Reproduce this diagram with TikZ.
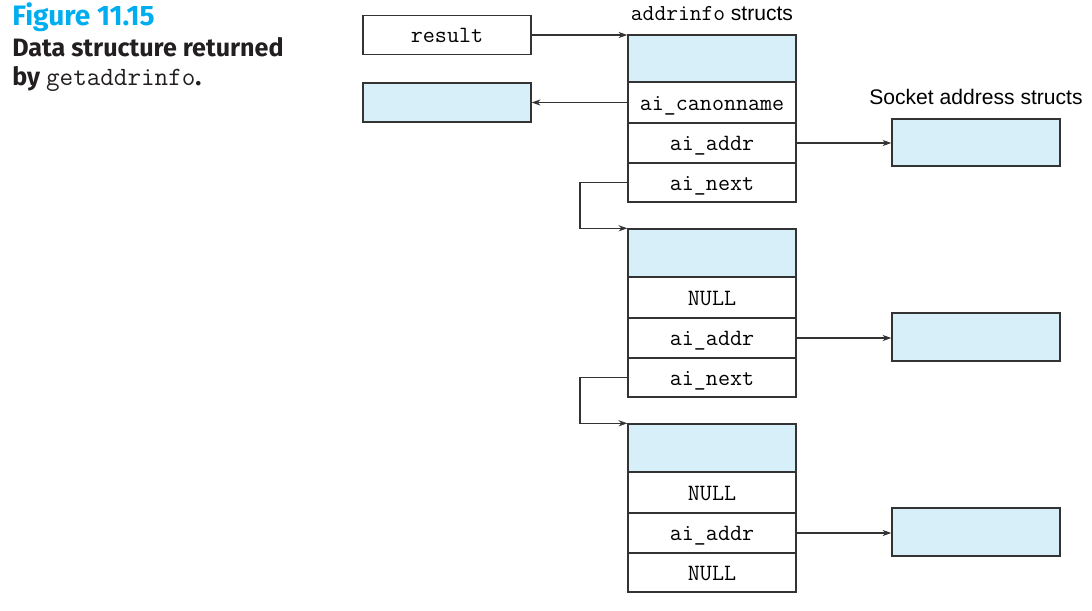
\documentclass[tikz,border=0pt]{standalone}
\usepackage{fontspec}
\setmainfont{Liberation Sans}
\newfontfamily\capfont{Fira Sans}
\usetikzlibrary{arrows.meta}
\definecolor{boxblue}{HTML}{D7EFF9}
\definecolor{capcyan}{HTML}{00AEEF}
\definecolor{capblack}{HTML}{231F20}
\definecolor{linegray}{HTML}{333333}
\tikzset{
  cell/.style={draw=linegray, line width=0.8pt, minimum width=168*0.02cm, inner sep=0pt, text height=10pt, text depth=1pt, font=\ttfamily\fontsize{13.3}{15}\selectfont},
  bluecell/.style={cell, fill=boxblue},
  conn/.style={draw=linegray, line width=0.6pt, -{Stealth[length=5pt,width=3.5pt]}},
  lbl/.style={inner sep=0pt, font=\fontsize{12}{14}\selectfont},
  capline/.style={anchor=base west, inner sep=0pt, font=\capfont\bfseries\fontsize{14.3}{17}\selectfont, text=capblack},
}
\begin{document}
\begin{tikzpicture}[x=0.02cm,y=-0.02cm]
\useasboundingbox (0,0) rectangle (1092,610);
% caption
\node[capline, font=\capfont\bfseries\fontsize{16}{18}\selectfont, text=capcyan] (fig) at (12,25) {Figure 11.15};
\node[capline] (cap1) at (12,56) {Data structure returned};
\node[capline] (cap2) at (12,85) {by {\mdseries\ttfamily\fontsize{15}{17}\selectfont getaddrinfo}.};
% left boxes
\node[cell, minimum height=39*0.02cm] (result) at (447,35) {result};
\node[bluecell, minimum height=39*0.02cm] (canon) at (447,102.5) {};
% titles
\node[lbl, anchor=base] (t1) at (712,20) {{\ttfamily\fontsize{13}{14}\selectfont addrinfo} structs};
\node[lbl, anchor=base] (t2) at (976,104) {Socket address structs};
% struct 1
\node[bluecell, minimum height=47*0.02cm] (h1) at (712,58.5) {};
\node[cell, minimum height=41*0.02cm] (cn1) at (712,102.5) {ai\_canonname};
\node[cell, minimum height=40*0.02cm] (ad1) at (712,143) {ai\_addr};
\node[cell, minimum height=39*0.02cm] (nx1) at (712,182.5) {ai\_next};
% struct 2
\node[bluecell, minimum height=48*0.02cm] (h2) at (712,253) {};
\node[cell, minimum height=41*0.02cm] (cn2) at (712,297.5) {NULL};
\node[cell, minimum height=40*0.02cm] (ad2) at (712,338) {ai\_addr};
\node[cell, minimum height=39*0.02cm] (nx2) at (712,377.5) {ai\_next};
% struct 3
\node[bluecell, minimum height=48*0.02cm] (h3) at (712,448) {};
\node[cell, minimum height=41*0.02cm] (cn3) at (712,492.5) {NULL};
\node[cell, minimum height=40*0.02cm] (ad3) at (712,533) {ai\_addr};
\node[cell, minimum height=39*0.02cm] (nx3) at (712,572.5) {NULL};
% socket boxes
\node[bluecell, minimum height=47*0.02cm] (s1) at (976,142.5) {};
\node[bluecell, minimum height=48*0.02cm] (s2) at (976,337) {};
\node[bluecell, minimum height=48*0.02cm] (s3) at (976,532) {};
% connectors
\draw[conn] (result.east) -- (result.east -| h1.west);
\draw[conn] (cn1.west) -- (canon.east);
\draw[conn] (ad1.east) -- (ad1.east -| s1.west);
\draw[conn] (ad2.east) -- (ad2.east -| s2.west);
\draw[conn] (ad3.east) -- (ad3.east -| s3.west);
\coordinate (b1) at (580,183);
\coordinate (b2) at (580,378);
\draw[conn] (nx1.west) -- (nx1.west -| b1) |- (h2.north west);
\draw[conn] (nx2.west) -- (nx2.west -| b2) |- (h3.north west);
\end{tikzpicture}
\end{document}
